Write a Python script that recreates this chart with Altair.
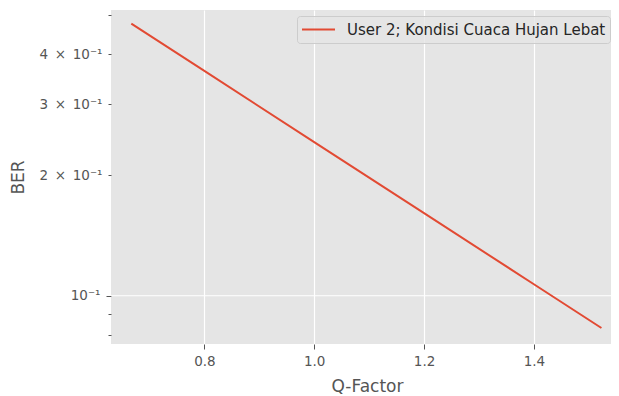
import altair as alt
import pandas as pd

# Data
q_factor = [0.667, 0.8, 1.0, 1.2, 1.4, 1.523]
ber = [0.477, 0.3635, 0.2416, 0.1607, 0.1068, 0.0831]
series_name = ["User 2; Kondisi Cuaca Hujan Lebat"] * len(q_factor)

x_ticks = [0.8, 1.0, 1.2, 1.4]
y_ticks = [0.08, 0.09, 0.1, 0.2, 0.3, 0.4, 0.5]
y_major = [0.1]

df = pd.DataFrame({"Q": q_factor, "BER": ber, "series": series_name})
grid_df = pd.DataFrame({"BER": y_major})

XDOM = [0.630, 1.5404]
YDOM = [0.0758, 0.5158]
FONT = "DejaVu Sans"
GRAY = "#555555"

x_axis = alt.Axis(
    values=x_ticks, format=".1f", grid=True, gridColor="white", gridWidth=1.2,
    domain=False, tickColor=GRAY, tickSize=5, tickWidth=1,
    labelColor=GRAY, labelFontSize=13.5, labelFont=FONT, labelPadding=5,
    titleColor=GRAY, titleFontSize=17, titleFont=FONT, titleFontWeight="normal",
    titleX=256, titleY=47, titleBaseline="alphabetic", titleAlign="center",
)

SP = "\u2002"
y_label_expr = (
    "round(datum.value*100)==10 ? '10⁻¹' : "
    f"round(datum.value*100)==20 ? '2{SP}×{SP}10⁻¹' : "
    f"round(datum.value*100)==30 ? '3{SP}×{SP}10⁻¹' : "
    f"round(datum.value*100)==40 ? '4{SP}×{SP}10⁻¹' : ''"
)

y_axis = alt.Axis(
    values=y_ticks, labelExpr=y_label_expr, grid=False, domain=False,
    tickColor=GRAY, tickWidth=1,
    tickSize={"condition": {"test": "round(datum.value*100)==10", "value": 5}, "value": 3},
    labelColor=GRAY, labelFontSize=13.5, labelFont=FONT, labelPadding=6,
    titleColor=GRAY, titleFontSize=17, titleFont=FONT, titleFontWeight="normal",
    titleAngle=-90, titleX=-88, titleY=167, titleBaseline="alphabetic", titleAlign="center",
)

y_scale = alt.Scale(type="log", domain=YDOM, nice=False)

grid_rule = alt.Chart(grid_df).mark_rule(color="white", strokeWidth=1.2).encode(
    y=alt.Y("BER:Q", title="BER", scale=y_scale, axis=y_axis)
)

line = alt.Chart(df).mark_line(strokeWidth=2).encode(
    x=alt.X("Q:Q", title="Q-Factor",
            scale=alt.Scale(domain=XDOM, nice=False, zero=False), axis=x_axis),
    y=alt.Y("BER:Q", title="BER", scale=y_scale, axis=y_axis),
    color=alt.Color(
        "series:N",
        scale=alt.Scale(range=["#E24A33"]),
        legend=alt.Legend(
            title=None, orient="none", legendX=186, legendY=6,
            symbolType="stroke", symbolSize=1089, symbolStrokeWidth=2,
            labelFontSize=15, labelFont=FONT, labelColor="#262626", labelOffset=11,
            labelLimit=0, clipHeight=19,
            fillColor="rgba(229,229,229,0.8)", strokeColor="#CCCCCC",
            padding=4, cornerRadius=3,
        ),
    ),
)

chart = (
    alt.layer(grid_rule, line)
    .properties(
        width=500, height=334,
        autosize=alt.AutoSizeParams(type="none"),
        padding={"left": 103, "top": 2, "right": 0, "bottom": 50},
    )
    .configure_view(fill="#E5E5E5", strokeWidth=0)
)

chart.save("out.html", embed_options={"renderer": "svg", "actions": False})
